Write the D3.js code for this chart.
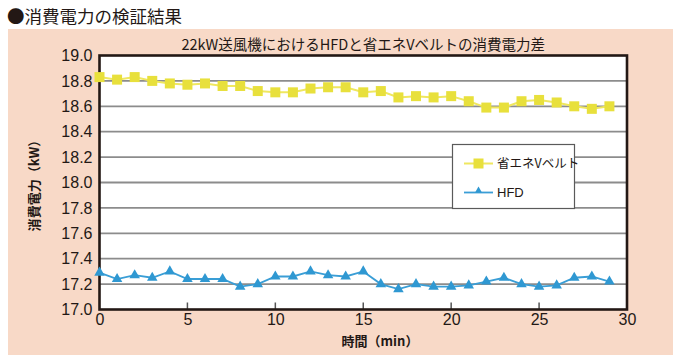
<!DOCTYPE html>
<html><head><meta charset="utf-8">
<script src="https://cdn.jsdelivr.net/npm/d3@7"></script>
<style>
html,body{margin:0;padding:0;background:#fff;}
svg{display:block;}
</style></head>
<body>
<svg id="c" width="680" height="364"></svg>
<script>
const minutes = d3.range(0, 30);
const beltValues = [18.83,18.81,18.83,18.80,18.78,18.77,18.78,18.76,18.76,18.72,18.71,18.71,18.74,18.75,18.75,18.71,18.72,18.67,18.68,18.67,18.68,18.64,18.59,18.59,18.64,18.65,18.63,18.60,18.58,18.60];
const hfdValues = [17.29,17.24,17.27,17.25,17.30,17.24,17.24,17.24,17.18,17.20,17.26,17.26,17.30,17.27,17.26,17.30,17.20,17.16,17.20,17.18,17.18,17.19,17.22,17.25,17.20,17.18,17.19,17.25,17.26,17.22];
const yTicks = [17.0,17.2,17.4,17.6,17.8,18.0,18.2,18.4,18.6,18.8,19.0];
const xTicks = [0,5,10,15,20,25,30];
const seriesNames = ["省エネVベルト","HFD"];
const pageTitle = "●消費電力の検証結果";
const chartTitle = "22kW送風機におけるHFDと省エネVベルトの消費電力差";
const xTitle = "時間（min）";
const yTitle = "消費電力（kW）";

const svg = d3.select("#c");
const JP = "'Noto Sans CJK JP','Noto Sans',sans-serif";
const NUM = "'Liberation Sans',Arial,sans-serif";

const L = 99.5, R = 627, T = 55.5, B = 309.5;
const x = d3.scaleLinear().domain([0,30]).range([L,R]);
const y = d3.scaleLinear().domain([17,19]).range([B,T]);

svg.append("text").attr("x",7).attr("y",23).attr("font-family",JP).attr("font-size",17.5)
  .attr("fill","#231815").text(pageTitle);

svg.append("rect").attr("x",8).attr("y",29).attr("width",665).attr("height",326).attr("fill","#f8d9c7");

svg.append("text").attr("x",(L+R)/2).attr("y",50).attr("text-anchor","middle")
  .attr("font-family",JP).attr("font-size",14.5).attr("fill","#231815").text(chartTitle);

svg.append("rect").attr("x",L).attr("y",T).attr("width",R-L).attr("height",B-T).attr("fill","#fff");

// gridlines
svg.append("g").selectAll("line").data(yTicks.filter(v=>v>17.01 && v<18.99)).join("line")
  .attr("x1",L).attr("x2",R).attr("y1",d=>y(d)).attr("y2",d=>y(d))
  .attr("stroke","#8c8c8c").attr("stroke-width",1.8);

// x inside ticks
svg.append("g").selectAll("line").data(xTicks.filter(v=>v>0 && v<30)).join("line")
  .attr("x1",d=>x(d)).attr("x2",d=>x(d)).attr("y1",B).attr("y2",B-7)
  .attr("stroke","#555").attr("stroke-width",1.5);

// frame
svg.append("rect").attr("x",L).attr("y",T).attr("width",R-L).attr("height",B-T)
  .attr("fill","none").attr("stroke","#231815").attr("stroke-width",2.6);

// y labels
const yAxis = d3.axisLeft(y).tickValues(yTicks).tickFormat(d3.format(".1f")).tickSize(0).tickPadding(7);
const gy = svg.append("g").attr("transform",`translate(${L},0)`).call(yAxis);
gy.select(".domain").remove();
gy.selectAll("text").attr("font-family",NUM).attr("font-size",16).attr("fill","#231815");

const xAxis = d3.axisBottom(x).tickValues(xTicks).tickFormat(d3.format("d")).tickSize(0).tickPadding(4);
const gx = svg.append("g").attr("transform",`translate(0,${B})`).call(xAxis);
gx.select(".domain").remove();
gx.selectAll("text").attr("font-family",NUM).attr("font-size",16).attr("fill","#231815");

svg.append("text").attr("x",380).attr("y",346).attr("text-anchor","middle")
  .attr("font-family",JP).attr("font-size",13).attr("font-weight","bold").attr("fill","#231815").text(xTitle);
svg.append("text").attr("transform",`translate(39,${(T+B)/2}) rotate(-90)`).attr("text-anchor","middle")
  .attr("font-family",JP).attr("font-size",13).attr("font-weight","bold").attr("fill","#231815").text(yTitle);

// legend box
const lg = svg.append("g");
lg.append("rect").attr("x",452.5).attr("y",144.5).attr("width",122).attr("height",64)
  .attr("fill","#fff").attr("stroke","#5a5a5a").attr("stroke-width",1.2);

const yellowLine = "#efe760", yellowMark = "#e8e03c";
const blueLine = "#3a9ed6", blueMark = "#2f98d2";

const line = d3.line().x((d,i)=>x(minutes[i])).y(d=>y(d));

svg.append("path").datum(beltValues).attr("d",line).attr("fill","none").attr("stroke",yellowLine).attr("stroke-width",2);
svg.append("g").selectAll("rect").data(beltValues).join("rect")
  .attr("x",(d,i)=>x(minutes[i])-5).attr("y",d=>y(d)-5).attr("width",10).attr("height",10).attr("fill",yellowMark);

svg.append("path").datum(hfdValues).attr("d",line).attr("fill","none").attr("stroke",blueLine).attr("stroke-width",1.8);
const tri = d3.symbol().type(d3.symbolTriangle).size(48);
svg.append("g").selectAll("path").data(hfdValues).join("path")
  .attr("transform",(d,i)=>`translate(${x(minutes[i])},${y(d)})`).attr("d",tri).attr("fill",blueMark);

// legend entries
lg.append("line").attr("x1",464).attr("x2",493).attr("y1",163.5).attr("y2",163.5).attr("stroke",yellowLine).attr("stroke-width",2);
lg.append("rect").attr("x",473.5).attr("y",158.5).attr("width",10).attr("height",10).attr("fill",yellowMark);
lg.append("text").attr("x",497).attr("y",168).attr("font-family",JP).attr("font-size",12.5).attr("fill","#231815").text(seriesNames[0]);
lg.append("line").attr("x1",464).attr("x2",493).attr("y1",192.5).attr("y2",192.5).attr("stroke",blueLine).attr("stroke-width",1.8);
lg.append("path").attr("transform","translate(478.5,190.5)").attr("d",d3.symbol().type(d3.symbolTriangle).size(20)).attr("fill",blueMark);
lg.append("text").attr("x",497).attr("y",197).attr("font-family",NUM).attr("font-size",13).attr("fill","#231815").text(seriesNames[1]);
</script>
</body></html>
